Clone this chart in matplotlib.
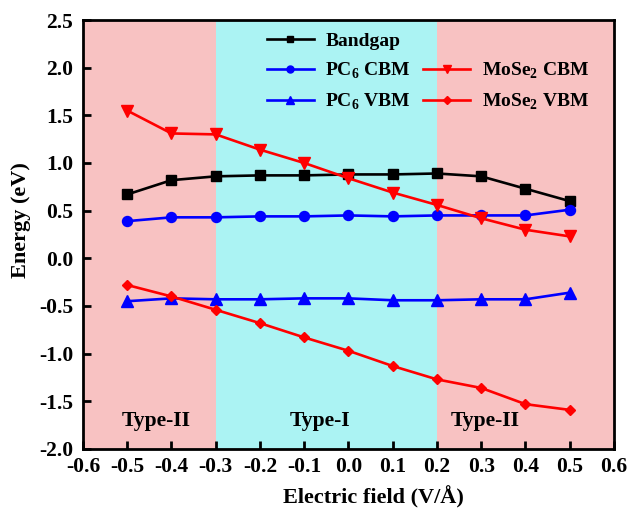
import matplotlib
matplotlib.use("Agg")
import matplotlib.pyplot as plt
from matplotlib.lines import Line2D
from matplotlib.ticker import FormatStrFormatter

plt.rcParams['font.family'] = ['Liberation Serif', 'DejaVu Serif']
plt.rcParams['font.weight'] = 'bold'
plt.rcParams['mathtext.fontset'] = 'custom'
plt.rcParams['mathtext.rm'] = 'Liberation Serif:bold'
plt.rcParams['mathtext.bf'] = 'Liberation Serif:bold'

field = [-0.5, -0.4, -0.3, -0.2, -0.1, 0.0, 0.1, 0.2, 0.3, 0.4, 0.5]
bandgap = [0.67, 0.82, 0.86, 0.87, 0.87, 0.88, 0.88, 0.89, 0.86, 0.73, 0.60]
pc6_cbm = [0.39, 0.43, 0.43, 0.44, 0.44, 0.45, 0.44, 0.45, 0.45, 0.45, 0.51]
pc6_vbm = [-0.45, -0.42, -0.43, -0.43, -0.42, -0.42, -0.44, -0.44, -0.43, -0.43, -0.36]
mose2_cbm = [1.55, 1.31, 1.30, 1.14, 1.00, 0.84, 0.69, 0.56, 0.42, 0.30, 0.23]
mose2_vbm = [-0.28, -0.40, -0.54, -0.68, -0.83, -0.97, -1.13, -1.27, -1.36, -1.53, -1.59]

regions = [(-0.6, -0.3, 'Type-II'), (-0.3, 0.2, 'Type-I'), (0.2, 0.6, 'Type-II')]
region_colors = ['#F8C2C2', '#ABF3F3', '#F8C2C2']
region_label_x = [-0.435, -0.065, 0.31]

fig = plt.figure(figsize=(6.3, 5.13), dpi=100)
ax = fig.add_axes([0.1317, 0.1248, 0.8429, 0.8362])

for (x0, x1, name), c, lx in zip(regions, region_colors, region_label_x):
    ax.axvspan(x0, x1, color=c, lw=0, zorder=0)
    ax.text(lx, -1.71, name, ha='center', va='center', fontsize=15.6,
            fontweight='bold', zorder=5)

lw = 1.9
h1, = ax.plot(field, bandgap, '-s', color='black', lw=lw, ms=6.7)
h2, = ax.plot(field, pc6_cbm, '-o', color='blue', lw=lw, ms=7.2)
h3, = ax.plot(field, pc6_vbm, '-^', color='blue', lw=lw, ms=8.4)
h4, = ax.plot(field, mose2_cbm, '-v', color='red', lw=lw, ms=8.4)
h5, = ax.plot(field, mose2_vbm, '-D', color='red', lw=lw, ms=5.6)

blank = Line2D([], [], alpha=0)
ax.legend([h1, h2, h3, blank, h4, h5],
          ['Bandgap', r'PC$_6$ CBM', r'PC$_6$ VBM', '', r'MoSe$_2$ CBM', r'MoSe$_2$ VBM'],
          ncol=2, frameon=False, loc='upper left', bbox_to_anchor=(0.3465, 0.971),
          borderpad=0, borderaxespad=0, markerscale=0.7,
          fontsize=14, handlelength=2.4, columnspacing=0.65, labelspacing=0.55,
          handletextpad=0.6)

ax.set_xlim(-0.6, 0.6)
ax.set_ylim(-2.0, 2.5)
ax.set_xticks([-0.6, -0.5, -0.4, -0.3, -0.2, -0.1, 0.0, 0.1, 0.2, 0.3, 0.4, 0.5, 0.6])
ax.set_yticks([-2.0, -1.5, -1.0, -0.5, 0.0, 0.5, 1.0, 1.5, 2.0, 2.5])
ax.xaxis.set_major_formatter(FormatStrFormatter('%.1f'))
ax.yaxis.set_major_formatter(FormatStrFormatter('%.1f'))
ax.tick_params(direction='in', length=6, width=2, labelsize=15.5)
ax.tick_params(axis='x', pad=6)
ax.tick_params(axis='y', pad=7)
for s in ax.spines.values():
    s.set_linewidth(2)

ax.set_xlabel('Electric field (V/Å)', fontsize=16, fontweight='bold')
ax.set_ylabel('Energy (eV)', fontsize=16, fontweight='bold')
ax.xaxis.set_label_coords((373.5 - 83) / 531, -(497 - 449) / 429)
ax.yaxis.set_label_coords(-(83 - 21) / 531, (449 - 220) / 429)
ax.xaxis.label.set_va('center')
ax.yaxis.label.set_va('center')

fig.savefig('out.png', dpi=100)
